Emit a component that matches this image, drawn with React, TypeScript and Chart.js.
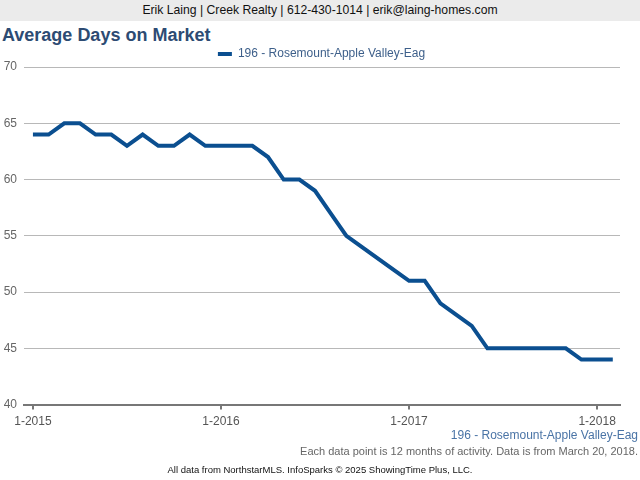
import React, { useEffect, useRef } from "react";
import { Chart, registerables } from "chart.js";

Chart.register(...registerables);

const seriesName = "196 - Rosemount-Apple Valley-Eag";
const monthLabels = [
  "1-2015","2-2015","3-2015","4-2015","5-2015","6-2015","7-2015","8-2015","9-2015","10-2015","11-2015","12-2015",
  "1-2016","2-2016","3-2016","4-2016","5-2016","6-2016","7-2016","8-2016","9-2016","10-2016","11-2016","12-2016",
  "1-2017","2-2017","3-2017","4-2017","5-2017","6-2017","7-2017","8-2017","9-2017","10-2017","11-2017","12-2017",
  "1-2018","2-2018",
];
const daysOnMarket = [
  64, 64, 65, 65, 64, 64, 63, 64, 63, 63, 64, 63,
  63, 63, 63, 62, 60, 60, 59, 57, 55, 54, 53, 52,
  51, 51, 49, 48, 47, 45, 45, 45, 45, 45, 45, 44,
  44, 44,
];
const xTickIndexes = [0, 12, 24, 36];
const yTicks = [40, 45, 50, 55, 60, 65, 70];

const FONT = "'Liberation Sans', Arial, Helvetica, sans-serif";
const LINE_COLOR = "#0b4f90";

const legendShift = {
  id: "legendShift",
  afterUpdate(chart: any) {
    if (chart.legend) {
      chart.legend.left += 10;
      chart.legend.right += 10;
      chart.legend.top += 3;
      chart.legend.bottom += 3;
    }
  },
};

export default function App() {
  const canvasRef = useRef<HTMLCanvasElement>(null);

  useEffect(() => {
    document.body.style.margin = "0";
    const ctx = canvasRef.current!.getContext("2d")!;
    const chart = new Chart(ctx, {
      type: "line",
      data: {
        datasets: [
          {
            label: seriesName,
            data: daysOnMarket.map((v, i) => ({ x: i, y: v })),
            borderColor: LINE_COLOR,
            backgroundColor: LINE_COLOR,
            borderWidth: 4,
            pointRadius: 0,
            tension: 0,
            fill: false,
          },
        ],
      },
      plugins: [legendShift],
      options: {
        animation: false,
        responsive: false,
        maintainAspectRatio: false,
        layout: { autoPadding: false, padding: { left: 3, right: 20, top: 0, bottom: 0 } },
        plugins: {
          tooltip: { enabled: false },
          legend: {
            display: true,
            position: "top",
            labels: {
              boxWidth: 14,
              boxHeight: 4,
              padding: 5,
              color: "#3d5f8a",
              font: { family: FONT, size: 12 },
              generateLabels: (c: any) =>
                Chart.defaults.plugins.legend.labels
                  .generateLabels(c)
                  .map((l: any) => ({ ...l, lineWidth: 0 })),
            },
          },
        },
        scales: {
          x: {
            type: "linear",
            min: -0.57,
            max: 37.46,
            afterBuildTicks: (axis: any) => {
              axis.ticks = xTickIndexes.map((v) => ({ value: v }));
            },
            ticks: {
              autoSkip: false,
              maxRotation: 0,
              color: "#555",
              font: { family: FONT, size: 12 },
              padding: 5,
              callback: (value: any) => monthLabels[Number(value)] ?? "",
            },
            grid: {
              display: true,
              drawOnChartArea: false,
              drawTicks: true,
              tickLength: 5,
              tickColor: "#777",
              lineWidth: 2,
            },
            border: { display: true, color: "#777", width: 2 },
          },
          y: {
            min: 40,
            max: 70,
            afterBuildTicks: (axis: any) => {
              axis.ticks = yTicks.map((v) => ({ value: v }));
            },
            afterFit: (axis: any) => {
              axis.width = 21;
            },
            ticks: {
              color: "#666",
              font: { family: FONT, size: 12 },
              padding: 7,
            },
            grid: {
              color: "#b8b8b8",
              lineWidth: 1,
              drawTicks: false,
            },
            border: { display: false },
          },
        },
      },
    });
    return () => chart.destroy();
  }, []);

  return (
    <div style={{ position: "relative", width: 640, height: 480, fontFamily: FONT, background: "#fff", overflow: "hidden" }}>
      <div
        style={{
          position: "absolute", left: 0, top: 0, width: 640, height: 21,
          background: "#ebebeb", color: "#111", fontSize: 12.2, lineHeight: "21px", textAlign: "center",
        }}
      >
        Erik Laing | Creek Realty | 612-430-1014 | erik@laing-homes.com
      </div>
      <div
        style={{
          position: "absolute", left: 2, top: 24, fontSize: 18, fontWeight: "bold", color: "#2d4b73", lineHeight: "22px",
        }}
      >
        Average Days on Market
      </div>
      <canvas ref={canvasRef} width={640} height={394} style={{ position: "absolute", left: 0, top: 40, width: 640, height: 394 }} />
      <div style={{ position: "absolute", right: 2, top: 427, fontSize: 12, color: "#4a74a6", lineHeight: "16px" }}>
        {seriesName}
      </div>
      <div style={{ position: "absolute", right: 2, top: 444, fontSize: 11, color: "#666", lineHeight: "14px" }}>
        Each data point is 12 months of activity. Data is from March 20, 2018.
      </div>
      <div style={{ position: "absolute", left: 0, width: 640, top: 463, fontSize: 9.5, color: "#111", textAlign: "center", lineHeight: "13px" }}>
        All data from NorthstarMLS. InfoSparks © 2025 ShowingTime Plus, LLC.
      </div>
    </div>
  );
}
